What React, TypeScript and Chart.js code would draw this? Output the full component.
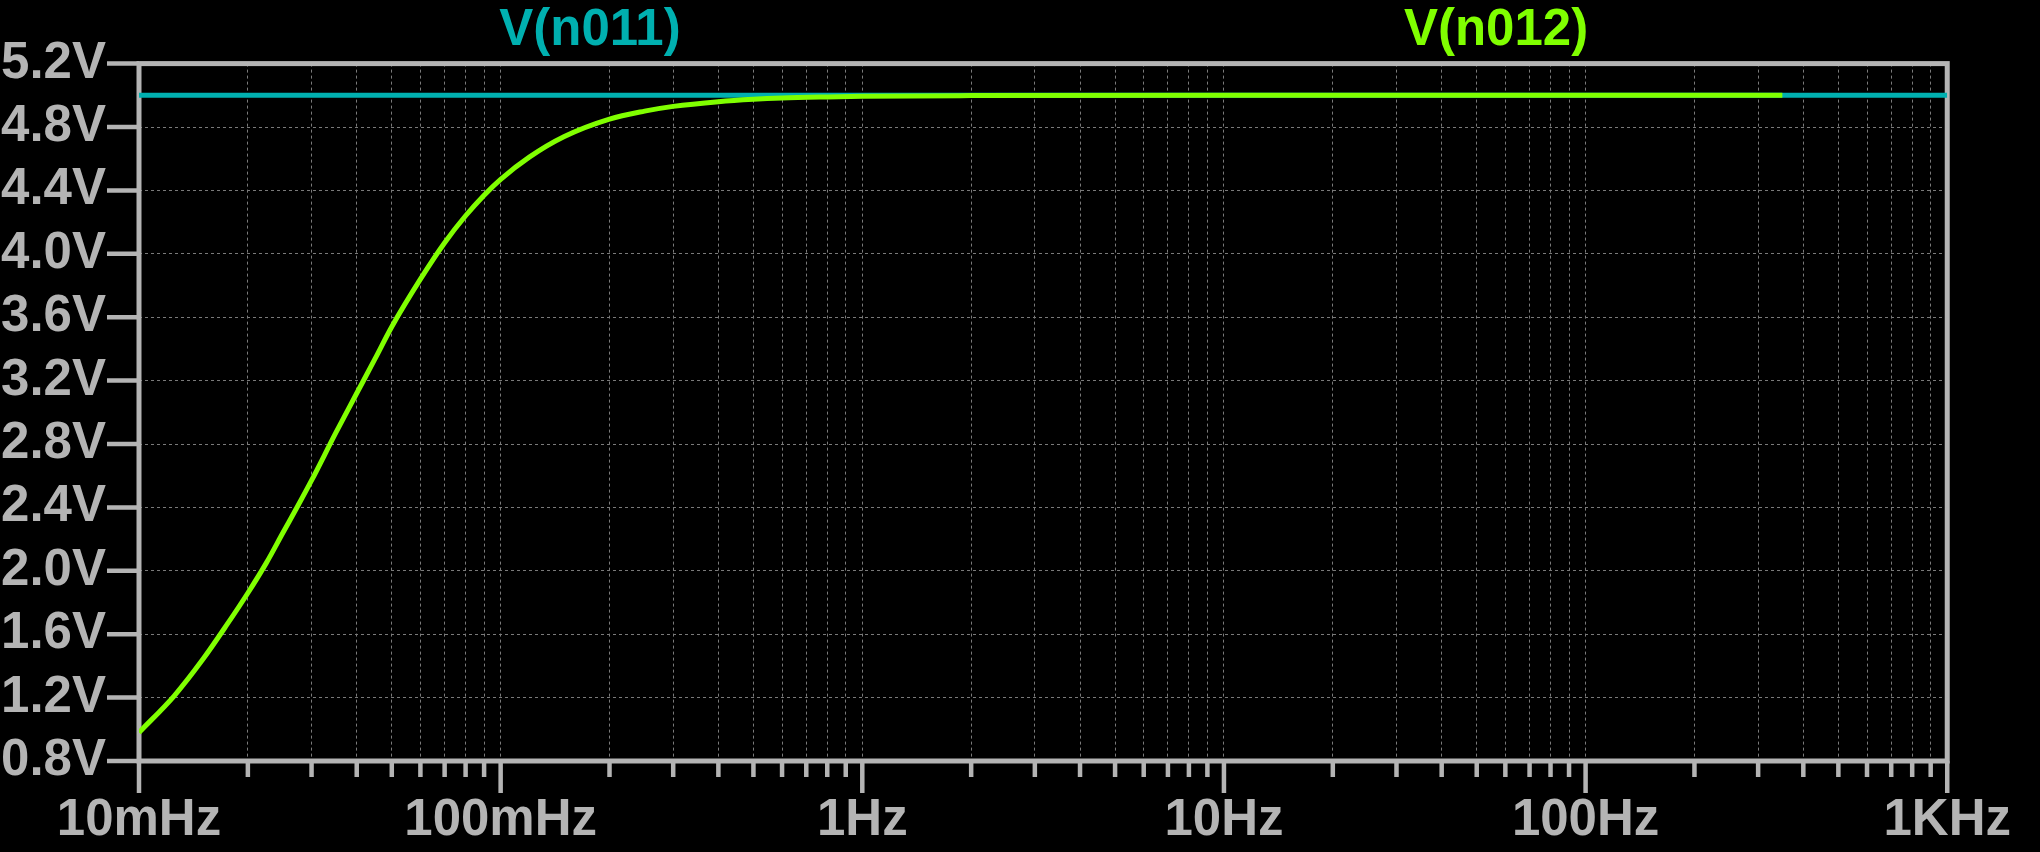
import React, { useEffect, useRef } from 'react';
import { Chart, registerables } from 'chart.js';

Chart.register(...registerables);

// ---------- data ----------
const seriesNames = ['V(n011)', 'V(n012)'];

const n011Freq = [0.01, 1000];
const n011Volts = [5.0, 5.0];

const n012Freq = [
  0.01, 0.0125, 0.015, 0.0175, 0.02, 0.0225, 0.025, 0.0275, 0.03, 0.035,
  0.04, 0.045, 0.05, 0.06, 0.07, 0.08, 0.09, 0.1, 0.12, 0.15,
  0.2, 0.25, 0.3, 0.4, 0.5, 0.6, 0.8, 1, 2, 10,
  100, 350,
];
const n012Volts = [
  0.98, 1.21, 1.44, 1.66, 1.86, 2.05, 2.24, 2.41, 2.57, 2.87,
  3.12, 3.34, 3.54, 3.84, 4.07, 4.24, 4.37, 4.47, 4.61, 4.74,
  4.85, 4.9, 4.93, 4.96, 4.975, 4.983, 4.99, 4.994, 4.998, 5.0,
  5.0, 5.0,
];

const xDecades = [0.01, 0.1, 1, 10, 100, 1000];
const xDecadeLabels = ['10mHz', '100mHz', '1Hz', '10Hz', '100Hz', '1KHz'];
const xMinorSteps = [2, 3, 4, 5, 6, 7, 8, 9];

const yTicks = [0.8, 1.2, 1.6, 2.0, 2.4, 2.8, 3.2, 3.6, 4.0, 4.4, 4.8, 5.2];
const yTickLabels = ['0.8V', '1.2V', '1.6V', '2.0V', '2.4V', '2.8V', '3.2V', '3.6V', '4.0V', '4.4V', '4.8V', '5.2V'];

// ---------- styles ----------
const TEAL = '#00b0b0';
const GREEN = '#80ff00';
const AXIS = '#b4b4b4';
const GRID = '#7a7a7a';
const FONT = '"Liberation Sans", Arial, Helvetica, sans-serif';
const FONT_SIZE = 51;

const frameAndTicks = {
  id: 'frameAndTicks',
  beforeDatasetsDraw(chart: any) {
    const { ctx, chartArea: a, scales } = chart;
    const xs = scales.x;
    const ys = scales.y;
    ctx.save();
    ctx.strokeStyle = AXIS;
    ctx.lineWidth = 5;
    ctx.setLineDash([]);
    ctx.strokeRect(a.left, a.top, a.right - a.left, a.bottom - a.top);
    ctx.beginPath();
    xs.ticks.forEach((t: any) => {
      const px = xs.getPixelForValue(t.value);
      const len = t.major ? 32 : 16;
      ctx.moveTo(px, a.bottom);
      ctx.lineTo(px, a.bottom + len);
    });
    ys.ticks.forEach((t: any) => {
      const py = ys.getPixelForValue(t.value);
      ctx.moveTo(a.left - 32, py);
      ctx.lineTo(a.left, py);
    });
    ctx.lineWidth = 4.5;
    ctx.stroke();
    ctx.restore();
  },
  afterDraw(chart: any) {
    const { ctx } = chart;
    const titleX = [590, 1496];
    ctx.save();
    ctx.font = `bold ${FONT_SIZE}px ${FONT}`;
    ctx.textAlign = 'center';
    ctx.textBaseline = 'alphabetic';
    chart.data.datasets.forEach((ds: any, i: number) => {
      ctx.fillStyle = ds.borderColor;
      ctx.fillText(ds.label, titleX[i], 45);
    });
    ctx.restore();
  },
};

export default function App() {
  const canvasRef = useRef<HTMLCanvasElement | null>(null);

  useEffect(() => {
    if (!canvasRef.current) return;
    const chart = new Chart(canvasRef.current, {
      type: 'line',
      data: {
        datasets: [
          {
            label: seriesNames[0],
            data: n011Freq.map((f, i) => ({ x: f, y: n011Volts[i] })),
            borderColor: TEAL,
            backgroundColor: TEAL,
            borderWidth: 5,
            pointRadius: 0,
            order: 2,
          },
          {
            label: seriesNames[1],
            data: n012Freq.map((f, i) => ({ x: f, y: n012Volts[i] })),
            borderColor: GREEN,
            backgroundColor: GREEN,
            borderWidth: 5,
            pointRadius: 0,
            cubicInterpolationMode: 'monotone',
            order: 1,
          },
        ],
      },
      options: {
        responsive: false,
        animation: false,
        devicePixelRatio: 1,
        layout: { padding: { top: 62, right: 90, left: 0, bottom: 0 } },
        plugins: {
          legend: { display: false },
          title: { display: false },
          tooltip: { enabled: false },
        },
        scales: {
          x: {
            type: 'logarithmic',
            min: 0.01,
            max: 1000,
            afterBuildTicks: (axis: any) => {
              const t: any[] = [];
              xDecades.forEach((d, di) => {
                t.push({ value: d, major: true });
                if (di < xDecades.length - 1) {
                  xMinorSteps.forEach((m) => t.push({ value: m * d, major: false }));
                }
              });
              axis.ticks = t;
            },
            afterFit: (axis: any) => {
              axis.height = 91;
            },
            ticks: {
              autoSkip: false,
              maxRotation: 0,
              minRotation: 0,
              padding: 29,
              color: AXIS,
              font: { family: FONT, size: FONT_SIZE, weight: 'bold' },
              callback: (value: any) => {
                const i = xDecades.indexOf(Number(value));
                return i >= 0 ? xDecadeLabels[i] : '';
              },
            },
            grid: {
              color: GRID,
              lineWidth: 1,
              drawTicks: false,
            },
            border: { display: false, dash: [3, 3] },
          },
          y: {
            type: 'linear',
            min: 0.8,
            max: 5.2,
            afterBuildTicks: (axis: any) => {
              axis.ticks = yTicks.map((v) => ({ value: v }));
            },
            afterFit: (axis: any) => {
              axis.width = 139;
            },
            ticks: {
              autoSkip: false,
              padding: 33,
              color: AXIS,
              font: { family: FONT, size: FONT_SIZE, weight: 'bold' },
              callback: (value: any, index: number) => yTickLabels[index] ?? '',
            },
            grid: {
              color: GRID,
              lineWidth: 1,
              drawTicks: false,
            },
            border: { display: false, dash: [3, 3] },
          },
        },
      },
      plugins: [frameAndTicks],
    } as any);
    return () => chart.destroy();
  }, []);

  return (
    <div
      style={{
        position: 'fixed',
        left: 0,
        top: 0,
        width: 2040,
        height: 852,
        background: '#000',
      }}
    >
      <canvas ref={canvasRef} width={2040} height={852} style={{ width: 2040, height: 852, display: 'block' }} />
    </div>
  );
}
